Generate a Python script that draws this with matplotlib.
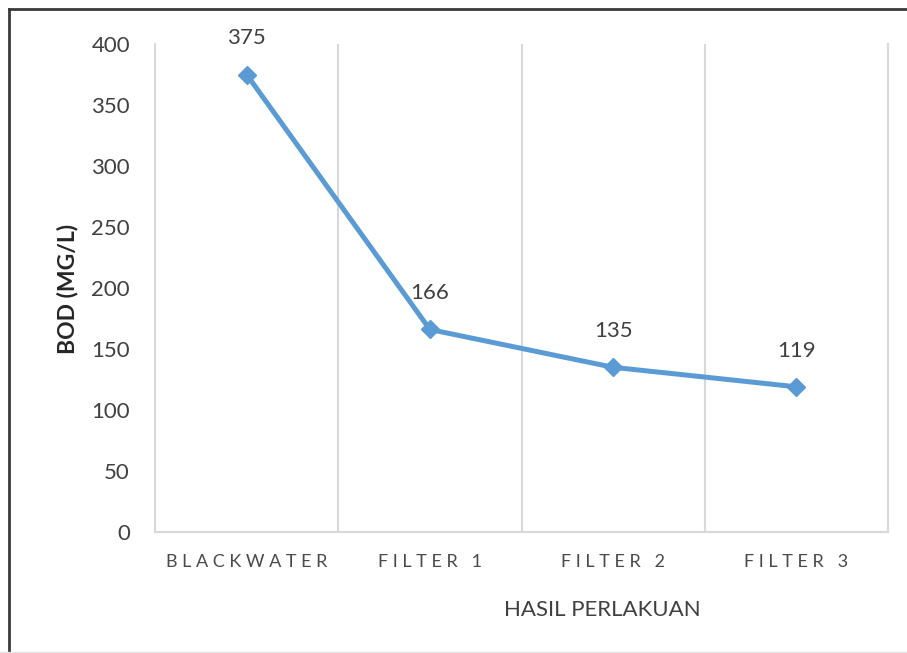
import numpy as np
import matplotlib
matplotlib.use('Agg')
import matplotlib.pyplot as plt
from matplotlib.lines import Line2D

categories = ['BLACKWATER', 'FILTER 1', 'FILTER 2', 'FILTER 3']
bod = [375, 166, 135, 119]
yticks = [0, 50, 100, 150, 200, 250, 300, 350, 400]

plt.rcParams['font.family'] = ['Lato', 'DejaVu Sans']

fig = plt.figure(figsize=(9.07, 6.53), dpi=100)
ax = fig.add_axes([155/907, 1-532/653, (888-155)/907, (532-44)/653])

x = np.arange(len(categories))
ax.plot(x, bod, color='#5B9BD5', lw=3.6, marker='D', markersize=9, zorder=3)
for xi, v in zip(x, bod):
    ax.annotate(str(v), (xi, v), xytext=(0, 26), textcoords='offset points',
                ha='center', va='center', fontsize=16, color='#404040')

ax.set_xlim(-0.5, len(categories) - 0.5)
ax.set_ylim(0, 400)
ax.set_yticks(yticks)
ax.set_yticklabels([str(t) for t in yticks], fontsize=16, color='#404040')
ax.set_xticks(x)
# spaced-out category labels, like the original
ax.set_xticklabels([' '.join(c.replace(' ', '\u00a0')) for c in categories],
                   fontsize=13, color='#4a4a4a')
ax.set_xticks(np.arange(len(categories) + 1) - 0.5, minor=True)
ax.grid(True, which='minor', axis='x', color='#D9D9D9', lw=1.5)
ax.tick_params(axis='both', which='both', length=0)
ax.tick_params(axis='y', pad=18)
ax.tick_params(axis='x', pad=16)

ax.spines['top'].set_visible(False)
for s in ['left', 'right', 'bottom']:
    ax.spines[s].set_color('#D9D9D9')
    ax.spines[s].set_linewidth(1.5)

fig.text(68/907, 1-289/653, 'BOD (MG/L)', rotation=90, ha='center', va='center',
         fontsize=16.5, fontweight='bold', color='#262626')
fig.text(602/907, 1-610/653, 'HASIL PERLAKUAN', ha='center', va='center',
         fontsize=16, color='#404040')

# outer frame (top/left dark, bottom faint)
fig.add_artist(Line2D([9/907, 1.0], [1-9/653, 1-9/653], transform=fig.transFigure, color='#3a3a3a', lw=2))
fig.add_artist(Line2D([9/907, 9/907], [0, 1-9/653], transform=fig.transFigure, color='#3a3a3a', lw=2))
fig.add_artist(Line2D([0, 1], [1/653, 1/653], transform=fig.transFigure, color='#e0e0e0', lw=1))

fig.savefig('out.png', dpi=100)
